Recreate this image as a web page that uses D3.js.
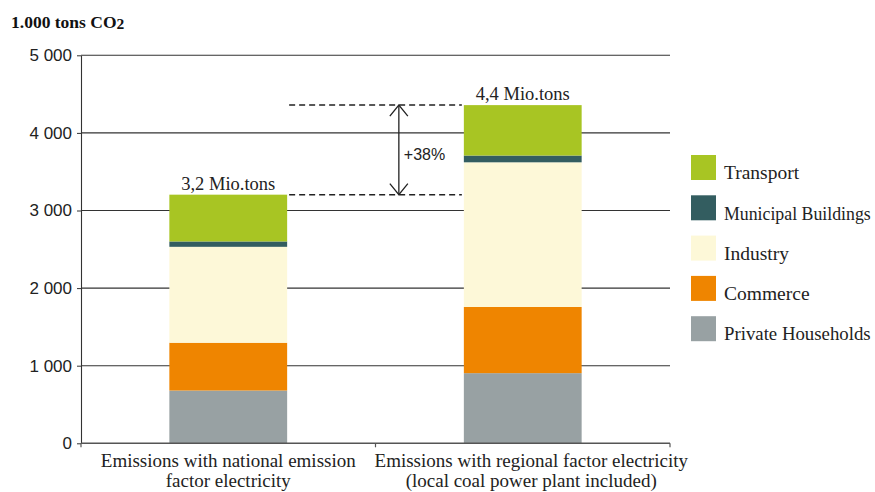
<!DOCTYPE html>
<html>
<head>
<meta charset="utf-8">
<script src="https://cdn.jsdelivr.net/npm/d3@7"></script>
<style>
  html, body { margin: 0; padding: 0; background: #fff; }
  svg { display: block; }
</style>
</head>
<body>
<svg id="chart" width="875" height="492"></svg>
<script>
// Emission scenarios (x categories), each split into two label lines
const categories = ["national", "regional"];
const categoryLines = [
  ["Emissions with national emission", "factor electricity"],
  ["Emissions with regional factor electricity", "(local coal power plant included)"]
];

// Sectors, stacked bottom to top
const sectors = ["Private Households", "Commerce", "Industry", "Municipal Buildings", "Transport"];
const sectorColors = ["#98a1a3", "#ef8500", "#fdf8d8", "#335d60", "#a8c523"];

// Values in 1.000 tons CO2, one entry per category
const privateHouseholds  = [680, 904];
const commerce           = [616, 853];
const industry           = [1236, 1864];
const municipalBuildings = [69, 87];
const transport          = [603, 650];

// Y axis ticks
const yTicks = [0, 1000, 2000, 3000, 4000, 5000];
const changeLabel = "+38%";

// Legend order (top to bottom)
const legendOrder = ["Transport", "Municipal Buildings", "Industry", "Commerce", "Private Households"];

const seriesValues = [privateHouseholds, commerce, industry, municipalBuildings, transport];
const rows = categories.map((c, i) => {
  const r = { category: c };
  sectors.forEach((s, k) => { r[s] = seriesValues[k][i]; });
  return r;
});
const totals = rows.map(r => d3.sum(sectors, s => r[s]));

const svg = d3.select("#chart");
const serif = "'Liberation Serif', 'Times New Roman', serif";
const sans = "'Liberation Sans', Arial, sans-serif";

const plotLeft = 81, plotRight = 670, plotTop = 55.3, plotBottom = 443.3;

const x = d3.scaleBand().domain(categories).range([plotLeft, plotRight]).padding(0);
const y = d3.scaleLinear().domain([0, 5000]).range([plotBottom, plotTop]);
const barW = x.bandwidth() * 0.4;
const barX = c => x(c) + (x.bandwidth() - barW) / 2;

const fmt = d3.formatLocale({ decimal: ",", thousands: " ", grouping: [3], currency: ["", ""] }).format(",d");

// Horizontal gridlines
svg.append("g")
  .selectAll("line")
  .data(yTicks.filter(d => d > 0))
  .join("line")
  .attr("x1", plotLeft).attr("x2", plotRight)
  .attr("y1", d => y(d)).attr("y2", d => y(d))
  .attr("stroke", "#333").attr("stroke-width", 1.1);

// Y axis
const yAxis = svg.append("g")
  .attr("transform", `translate(${plotLeft},0)`)
  .call(d3.axisLeft(y).tickValues(yTicks).tickFormat(fmt).tickSize(4).tickSizeOuter(0).tickPadding(5));
yAxis.select(".domain").attr("stroke", "#333").attr("stroke-width", 1.1);
yAxis.selectAll(".tick line").attr("stroke", "#333");
yAxis.selectAll(".tick text")
  .attr("font-family", sans).attr("font-size", 17).attr("fill", "#222");

// Stacked bars
const stack = d3.stack().keys(sectors)(rows);
svg.append("g")
  .selectAll("g")
  .data(stack)
  .join("g")
  .attr("fill", (d, i) => sectorColors[i])
  .selectAll("rect")
  .data(d => d)
  .join("rect")
  .attr("x", d => barX(d.data.category))
  .attr("width", barW)
  .attr("y", d => y(d[1]))
  .attr("height", d => y(d[0]) - y(d[1]));

// X axis with ticks at category boundaries
const xAxis = svg.append("g").attr("transform", `translate(0,${plotBottom})`);
xAxis.append("line")
  .attr("x1", plotLeft).attr("x2", plotRight)
  .attr("stroke", "#555").attr("stroke-width", 1.4);
const boundaries = categories.map(c => x(c)).concat([x(categories[categories.length - 1]) + x.bandwidth()]);
xAxis.selectAll("line.tick")
  .data(boundaries)
  .join("line")
  .attr("class", "tick")
  .attr("x1", d => d).attr("x2", d => d)
  .attr("y1", 0).attr("y2", 4)
  .attr("stroke", "#555").attr("stroke-width", 1.2);

// Category labels (second one sits slightly right of its band centre)
const labelShift = [0, 8.5];
categories.forEach((c, i) => {
  const t = svg.append("text")
    .attr("text-anchor", "middle")
    .attr("font-family", serif).attr("font-size", 19).attr("fill", "#222");
  categoryLines[i].forEach((line, j) => {
    t.append("tspan")
      .attr("x", x(c) + x.bandwidth() / 2 + labelShift[i])
      .attr("y", 467.3 + j * 19.8)
      .text(line);
  });
});

// Totals above each bar
svg.append("g")
  .selectAll("text")
  .data(categories)
  .join("text")
  .attr("x", c => x(c) + x.bandwidth() / 2)
  .attr("y", (c, i) => y(totals[i]) - 5)
  .attr("text-anchor", "middle")
  .attr("font-family", serif).attr("font-size", 18.5).attr("fill", "#222")
  .text((c, i) => (totals[i] / 1000).toFixed(1).replace(".", ",") + " Mio.tons");

// Dashed reference lines between the two totals
const dashX1 = barX(categories[0]) + barW + 2;
const dashX2 = barX(categories[1]) - 2;
svg.append("g")
  .selectAll("line")
  .data(totals)
  .join("line")
  .attr("x1", dashX1).attr("x2", dashX2)
  .attr("y1", d => y(d)).attr("y2", d => y(d))
  .attr("stroke", "#222").attr("stroke-width", 1.5)
  .attr("stroke-dasharray", "6,4");

// Double-headed arrow showing the increase
const ax = dashX2 - 63;
const yHi = y(totals[1]), yLo = y(totals[0]);
const arrow = svg.append("g").attr("stroke", "#222").attr("stroke-width", 1.3).attr("fill", "none");
arrow.append("line").attr("x1", ax).attr("x2", ax).attr("y1", yHi).attr("y2", yLo);
arrow.append("path").attr("d", `M${ax - 9},${yHi + 11} L${ax},${yHi} L${ax + 9},${yHi + 11}`);
arrow.append("path").attr("d", `M${ax - 9},${yLo - 11} L${ax},${yLo} L${ax + 9},${yLo - 11}`);
svg.append("text")
  .attr("x", ax + 5).attr("y", (yHi + yLo) / 2 + 10)
  .attr("font-family", sans).attr("font-size", 16).attr("fill", "#222")
  .text(changeLabel);

// Legend; a label too long for the frame gets a smaller font
const legendFont = 19.5;
const legend = svg.append("g");
legendOrder.forEach((name, i) => {
  const k = sectors.indexOf(name);
  const g = legend.append("g").attr("transform", `translate(691,${155 + i * 40.3})`);
  g.append("rect").attr("width", 25).attr("height", 25).attr("fill", sectorColors[k]);
  const t = g.append("text")
    .attr("x", 33).attr("y", 24.3)
    .attr("font-family", serif).attr("font-size", legendFont).attr("fill", "#222")
    .text(name);
  const maxW = 875 - 691 - 33 - 4;
  const w = t.node().getComputedTextLength();
  if (w > maxW) t.attr("font-size", Math.floor(legendFont * maxW / w * 10) / 10);
});

// Unit title
const title = svg.append("text")
  .attr("x", 11).attr("y", 27.7)
  .attr("font-family", serif).attr("font-weight", "bold").attr("font-size", 17.5).attr("fill", "#111");
title.append("tspan").text("1.000 tons CO");
title.append("tspan").attr("font-size", 15.5).attr("dy", 1.5).text("2");
</script>
</body>
</html>
